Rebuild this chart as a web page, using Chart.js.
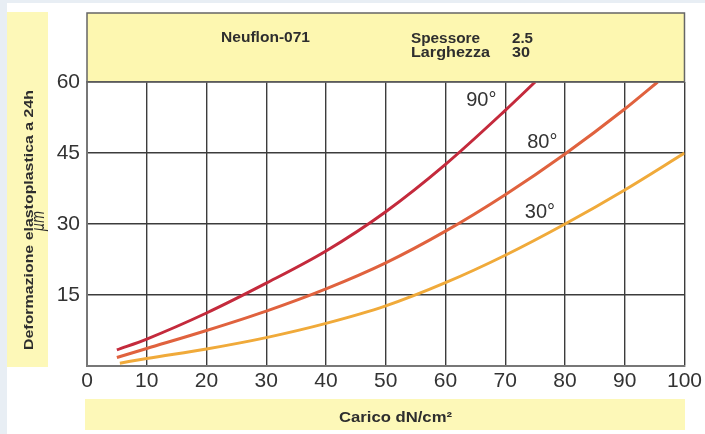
<!DOCTYPE html>
<html>
<head>
<meta charset="utf-8">
<script src="https://cdn.jsdelivr.net/npm/chart.js@4/dist/chart.umd.min.js"></script>
<style>
  html, body { margin: 0; padding: 0; background: #ffffff; }
  #wrap { width: 705px; height: 434px; position: relative; }
</style>
</head>
<body>
<div id="wrap"><canvas id="c" width="705" height="434"></canvas></div>
<script>
// ---- data ----
const x90 = [5, 10, 20, 30, 40, 50, 60, 70, 75];
const y90 = [3.4, 5.7, 11.2, 17.5, 24.3, 32.6, 42.6, 54.0, 60];
const x80 = [5, 10, 20, 30, 40, 50, 60, 70, 80, 90, 95.5];
const y80 = [1.8, 3.7, 7.5, 11.6, 16.3, 21.8, 28.5, 36.2, 44.8, 54.3, 60];
const x30 = [5.5, 10, 20, 30, 40, 50, 60, 70, 80, 90, 100];
const y30 = [0.6, 1.6, 3.6, 6.0, 9.0, 12.7, 17.6, 23.4, 30, 37.2, 45];
const seriesNames = ['90°', '80°', '30°'];
const labelX = [66, 76.2, 75.8];
const labelY = [56.2, 47.2, 32.5];
const xTickStep = 10;
const yTickStep = 15;
const titleText = 'Neuflon-071';
const infoLabels = ['Spessore', 'Larghezza'];
const infoValues = ['2.5', '30'];
const xTitle = 'Carico dN/cm²';
const yTitle1 = 'Deformazione elastoplastica a 24h';
const yTitle2 = 'μm';

const colors = ['#c42a3c', '#e0623e', '#f0aa3a'];
const pts = (xs, ys) => xs.map((x, i) => ({x: x, y: ys[i]}));

function fitText(ctx, text, x, y, width, align) {
  const w = ctx.measureText(text).width;
  const s = width / w;
  ctx.save();
  ctx.translate(x, y);
  ctx.scale(s, 1);
  let dx = 0;
  if (align === 'center') dx = -w / 2;
  else if (align === 'right') dx = -w;
  ctx.textAlign = 'left';
  ctx.fillText(text, dx, 0);
  ctx.restore();
}

const decor = {
  id: 'decor',
  beforeDraw(chart) {
    const ctx = chart.ctx;
    ctx.save();
    ctx.fillStyle = '#e8eef4';
    ctx.fillRect(0, 0, 705, 434);
    ctx.fillStyle = '#ffffff';
    ctx.fillRect(7, 3, 698, 431);
    const ca = chart.chartArea;
    ctx.fillStyle = '#fdf7b0';
    ctx.fillRect(ca.left, 13, ca.right - ca.left, ca.top - 13);
    ctx.fillStyle = '#fdf8b8';
    ctx.fillRect(7, 12, 41, 355);
    ctx.fillRect(85, 399, 600, 31);
    ctx.restore();
  },
  afterDraw(chart) {
    const ctx = chart.ctx;
    const ca = chart.chartArea;
    const xs = chart.scales.x, ys = chart.scales.y;
    ctx.save();
    ctx.strokeStyle = '#666';
    ctx.lineWidth = 1.5;
    ctx.strokeRect(ca.left, 13, ca.right - ca.left, ca.top - 13);
    ctx.fillStyle = '#2e2e2e';
    ctx.textBaseline = 'alphabetic';
    ctx.font = 'bold 14px "Liberation Sans", Arial, sans-serif';
    fitText(ctx, titleText, 265.5, 42, 89, 'center');
    fitText(ctx, infoLabels[0], 411, 43, 69, 'left');
    fitText(ctx, infoLabels[1], 411, 56.5, 79, 'left');
    fitText(ctx, infoValues[0], 512, 43, 21, 'left');
    fitText(ctx, infoValues[1], 512, 56.5, 18, 'left');
    fitText(ctx, xTitle, 395.5, 422, 113, 'center');
    ctx.font = 'bold 13px "Liberation Sans", Arial, sans-serif';
    ctx.save();
    ctx.translate(33, 220);
    ctx.rotate(-Math.PI / 2);
    fitText(ctx, yTitle1, 0, 0, 260, 'center');
    ctx.restore();
    ctx.save();
    ctx.translate(44, 221);
    ctx.rotate(-Math.PI / 2);
    ctx.font = 'italic 17px "DejaVu Sans", sans-serif';
    fitText(ctx, yTitle2, 0, 0, 20, 'center');
    ctx.restore();
    ctx.font = '20px "Liberation Sans", Arial, sans-serif';
    ctx.fillStyle = '#333';
    ctx.textAlign = 'center';
    ctx.textBaseline = 'middle';
    for (let i = 0; i < seriesNames.length; i++) {
      ctx.fillText(seriesNames[i], xs.getPixelForValue(labelX[i]), ys.getPixelForValue(labelY[i]));
    }
    ctx.restore();
  }
};

new Chart(document.getElementById('c'), {
  type: 'line',
  data: {
    datasets: [
      {label: seriesNames[0], data: pts(x90, y90), borderColor: colors[0]},
      {label: seriesNames[1], data: pts(x80, y80), borderColor: colors[1]},
      {label: seriesNames[2], data: pts(x30, y30), borderColor: colors[2]}
    ].map(d => Object.assign(d, {borderWidth: 3, pointRadius: 0, fill: false, cubicInterpolationMode: 'monotone'}))
  },
  options: {
    responsive: false,
    animation: false,
    devicePixelRatio: 1,
    layout: {padding: {top: 82, right: 20, left: 0, bottom: 0}},
    plugins: {legend: {display: false}, tooltip: {enabled: false}},
    scales: {
      x: {
        type: 'linear', min: 0, max: 100,
        ticks: {stepSize: xTickStep, color: '#333', padding: 3,
                font: {size: 21, family: '"Liberation Sans", Arial, sans-serif'}},
        grid: {color: '#3c3c3c', lineWidth: 1.4, drawTicks: false},
        border: {color: '#777', width: 2},
        afterFit(s) { s.height = 68; }
      },
      y: {
        type: 'linear', min: 0, max: 60,
        ticks: {stepSize: yTickStep, color: '#333', padding: 7,
                font: {size: 21, family: '"Liberation Sans", Arial, sans-serif'},
                callback: v => v === 0 ? '' : v},
        grid: {color: '#3c3c3c', lineWidth: 1.4, drawTicks: false},
        border: {color: '#777', width: 2},
        afterFit(s) { s.width = 87; }
      }
    }
  },
  plugins: [decor]
});
</script>
</body>
</html>
